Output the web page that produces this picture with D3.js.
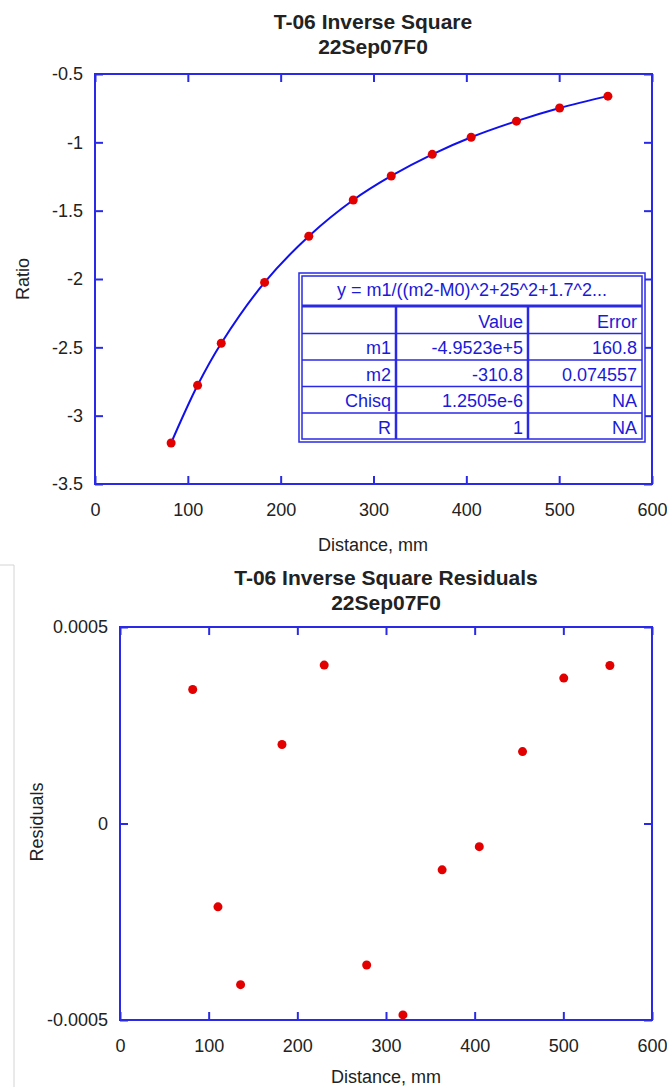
<!DOCTYPE html>
<meta charset="utf-8">
<style>
    body { margin: 0; background: #fff; }
    svg { font-family: "Liberation Sans", Arial, sans-serif; }
    .title { font-size: 21px; font-weight: bold; fill: #222; }
    .tick text { font-size: 18px; fill: #222; }
    .axis-label { font-size: 18px; fill: #222; }
    .frame { fill: none; stroke: #2a2ae6; stroke-width: 2px; }
    .tbl text { font-size: 18px; fill: #1a1ad8; }
</style>
<svg width="667" height="1087"></svg>
<script src="https://d3js.org/d3.v7.min.js"></script>
<script>
    // distance (mm) of each measurement
    const distance = [82, 110.5, 136, 182.7, 230.3, 278.2, 319.1, 363.3, 405.2, 454, 500.5, 552.5];
    // measured ratio
    const ratio = [-3.200, -2.778, -2.470, -2.025, -1.687, -1.422, -1.246, -1.088, -0.963, -0.845, -0.749, -0.662];
    // residuals of the fit
    const residuals = [0.000341, -0.000212, -0.00041, 0.000201, 0.000403, -0.00036,
        -0.000487, -0.000118, -0.000059, 0.000183, 0.00037, 0.000402];

    const xTicks = [0, 100, 200, 300, 400, 500, 600];
    const ratioTicks = [-0.5, -1, -1.5, -2, -2.5, -3, -3.5];
    const residTicks = [0.0005, 0, -0.0005];

    const fitHeader = "y = m1/((m2-M0)^2+25^2+1.7^2...";
    const fitRows = [
        ["", "Value", "Error"],
        ["m1", "-4.9523e+5", "160.8"],
        ["m2", "-310.8", "0.074557"],
        ["Chisq", "1.2505e-6", "NA"],
        ["R", "1", "NA"]
    ];

    const svg = d3.select("svg");
    const blue = "#2a2ae6";
    const hyphen = s => s.replace("\u2212", "-");

    function drawFrame(g, x, y, xt, yt, fmtY) {
        const w = x.range()[1], h = y.range()[1];
        // bottom axis with inward ticks
        const bx = g.append("g").attr("transform", `translate(0,${h})`)
            .call(d3.axisBottom(x).tickValues(xt).tickSize(-8).tickPadding(19).tickFormat(d3.format("d")));
        const tx = g.append("g")
            .call(d3.axisTop(x).tickValues(xt).tickSize(-8).tickFormat(""));
        const ly = g.append("g")
            .call(d3.axisLeft(y).tickValues(yt).tickSize(-8).tickPadding(12).tickFormat(fmtY));
        const ry = g.append("g").attr("transform", `translate(${w},0)`)
            .call(d3.axisRight(y).tickValues(yt).tickSize(-8).tickFormat(""));
        [bx, tx, ly, ry].forEach(a => {
            a.select(".domain").remove();
            a.selectAll(".tick line").attr("stroke", blue).attr("stroke-width", 2);
        });
        g.append("rect").attr("class", "frame").attr("width", w).attr("height", h);
    }

    // ---------- top chart ----------
    const m1 = { left: 95, top: 74, w: 557, h: 410 };
    const g1 = svg.append("g").attr("transform", `translate(${m1.left},${m1.top})`);
    const x1 = d3.scaleLinear().domain([0, 600]).range([0, m1.w]);
    const y1 = d3.scaleLinear().domain([-0.5, -3.5]).range([0, m1.h]);

    svg.append("text").attr("class", "title").attr("x", 373).attr("y", 29)
        .attr("text-anchor", "middle").text("T-06 Inverse Square");
    svg.append("text").attr("class", "title").attr("x", 373).attr("y", 54)
        .attr("text-anchor", "middle").text("22Sep07F0");

    drawFrame(g1, x1, y1, xTicks, ratioTicks, d => hyphen(d3.format("")(d)));

    g1.append("path")
        .datum(distance.map((d, i) => [d, ratio[i]]))
        .attr("fill", "none").attr("stroke", "#1010ee").attr("stroke-width", 2)
        .attr("d", d3.line().x(d => x1(d[0])).y(d => y1(d[1])).curve(d3.curveCatmullRom));

    g1.selectAll(".dot").data(distance).enter().append("circle")
        .attr("cx", d => x1(d)).attr("cy", (d, i) => y1(ratio[i]))
        .attr("r", 4.5).attr("fill", "#e30000");

    svg.append("text").attr("class", "axis-label").attr("x", 373).attr("y", 551)
        .attr("text-anchor", "middle").text("Distance, mm");
    svg.append("text").attr("class", "axis-label")
        .attr("transform", "translate(29,279) rotate(-90)")
        .attr("text-anchor", "middle").text("Ratio");

    // fit table
    const tb = svg.append("g").attr("class", "tbl").attr("transform", "translate(299,273)");
    const tw = 346, th = 169;
    tb.append("rect").attr("width", tw).attr("height", th).attr("fill", "#fff")
        .attr("stroke", blue).attr("stroke-width", 1.5);
    tb.append("rect").attr("x", 3).attr("y", 3).attr("width", tw - 6).attr("height", th - 6)
        .attr("fill", "none").attr("stroke", blue).attr("stroke-width", 1.5);
    const headH = 31, rowH = 26.5;
    const colX = [3, 97, 229, tw - 3];
    tb.append("text").attr("x", tw / 2).attr("y", headH - 8).attr("text-anchor", "middle").text(fitHeader);
    tb.append("line").attr("x1", 3).attr("x2", tw - 3).attr("y1", headH + 2).attr("y2", headH + 2)
        .attr("stroke", blue).attr("stroke-width", 3);
    fitRows.forEach((r, i) => {
        const y0 = headH + 3 + i * rowH;
        if (i > 0) tb.append("line").attr("x1", 3).attr("x2", tw - 3).attr("y1", y0).attr("y2", y0)
            .attr("stroke", blue).attr("stroke-width", 1.5);
        r.forEach((c, j) => {
            tb.append("text").attr("x", colX[j + 1] - 5).attr("y", y0 + rowH - 6)
                .attr("text-anchor", "end").text(c);
        });
    });
    [colX[1], colX[2]].forEach(cx => tb.append("line").attr("x1", cx).attr("x2", cx)
        .attr("y1", headH + 2).attr("y2", th - 3).attr("stroke", blue).attr("stroke-width", 2.5));

    // ---------- bottom chart ----------
    // faint frame from the source page
    svg.append("path").attr("d", "M0,565H14V1087").attr("fill", "none")
        .attr("stroke", "#d4d4d4").attr("stroke-width", 1);

    const m2 = { left: 120, top: 627, w: 532, h: 393 };
    const g2 = svg.append("g").attr("transform", `translate(${m2.left},${m2.top})`);
    const x2 = d3.scaleLinear().domain([0, 600]).range([0, m2.w]);
    const y2 = d3.scaleLinear().domain([0.0005, -0.0005]).range([0, m2.h]);

    svg.append("text").attr("class", "title").attr("x", 386).attr("y", 585)
        .attr("text-anchor", "middle").text("T-06 Inverse Square Residuals");
    svg.append("text").attr("class", "title").attr("x", 386).attr("y", 610)
        .attr("text-anchor", "middle").text("22Sep07F0");

    drawFrame(g2, x2, y2, xTicks, residTicks, d => d === 0 ? "0" : hyphen(d3.format(".4f")(d)));

    g2.selectAll(".dot").data(distance).enter().append("circle")
        .attr("cx", d => x2(d)).attr("cy", (d, i) => y2(residuals[i]))
        .attr("r", 4.5).attr("fill", "#e30000");

    svg.append("text").attr("class", "axis-label").attr("x", 386).attr("y", 1083)
        .attr("text-anchor", "middle").text("Distance, mm");
    svg.append("text").attr("class", "axis-label")
        .attr("transform", "translate(43,822) rotate(-90)")
        .attr("text-anchor", "middle").text("Residuals");
</script>
